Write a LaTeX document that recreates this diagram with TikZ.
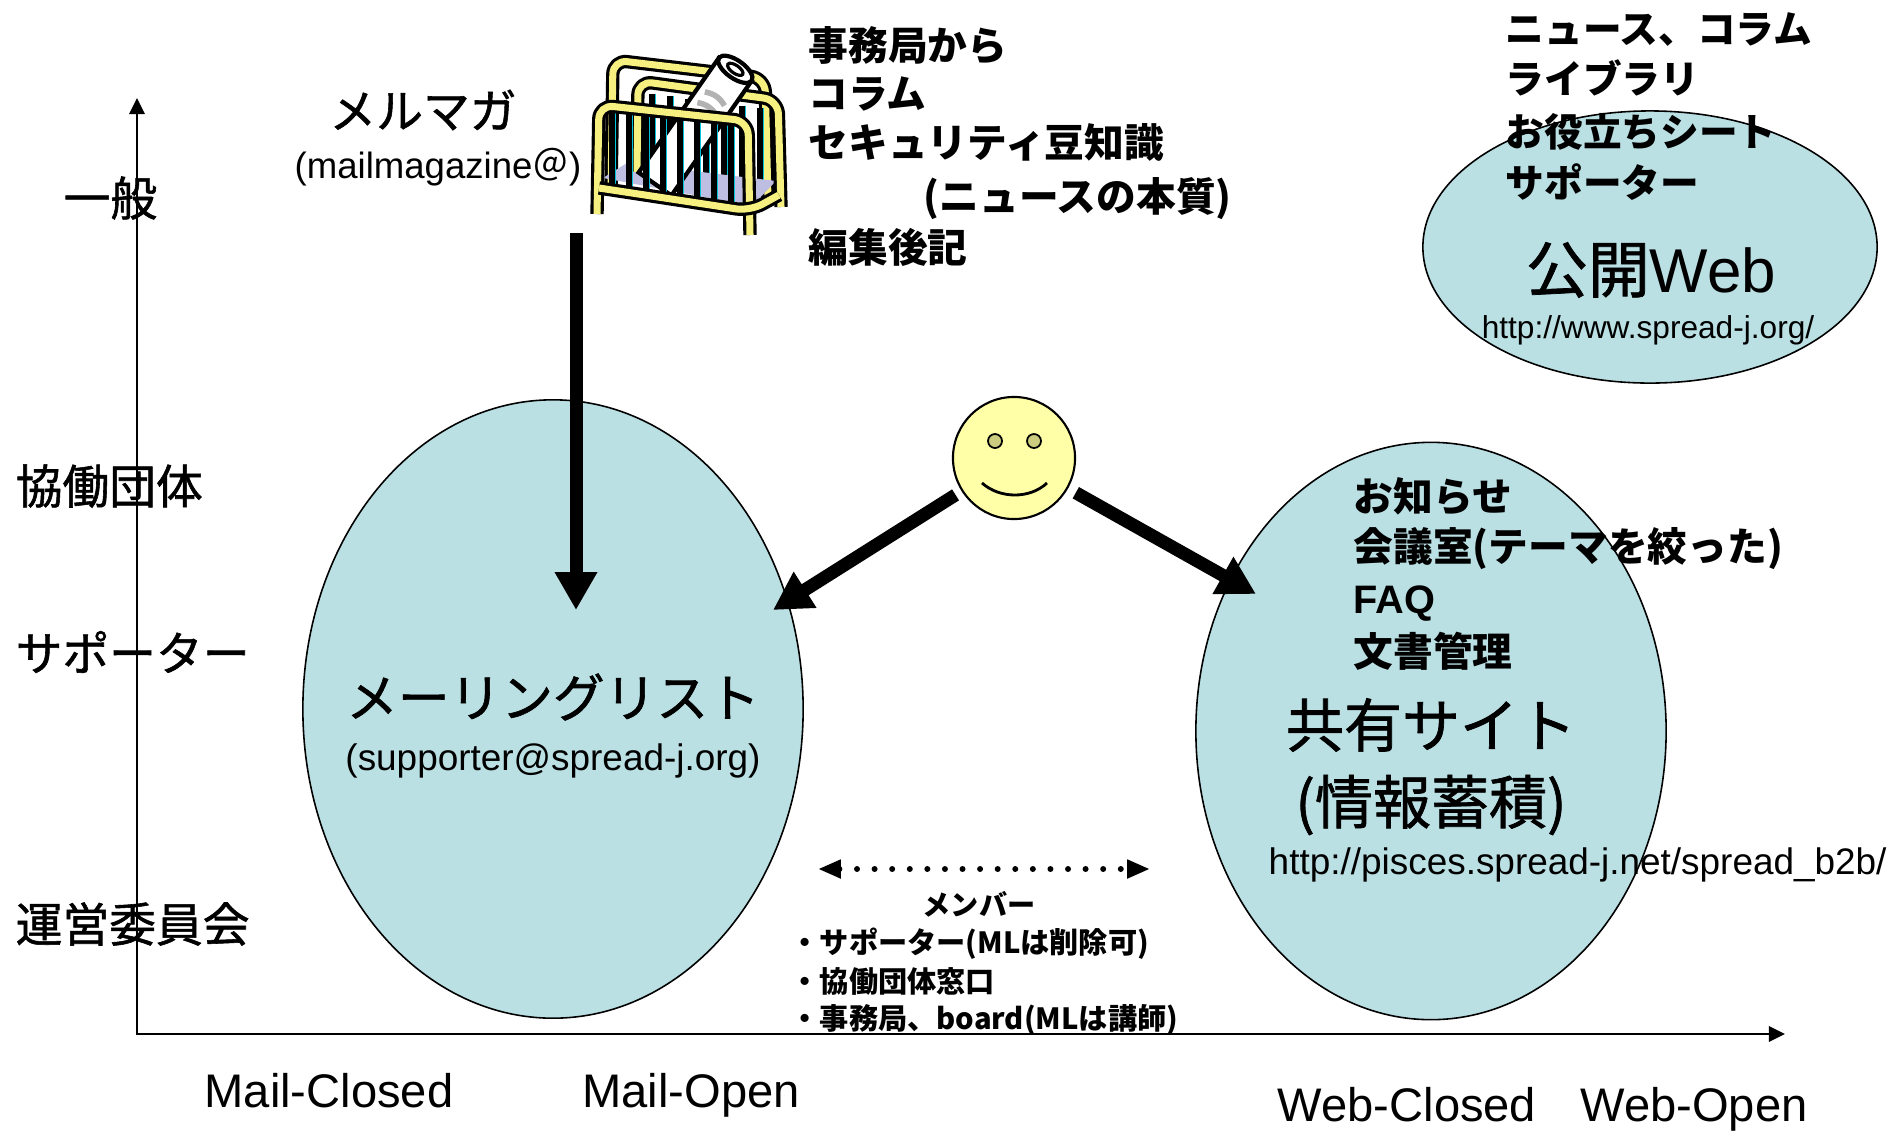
\documentclass[tikz,border=0pt]{standalone}
\usepackage{fontspec}
\setmainfont{Liberation Sans}
\newfontfamily\jp{Noto Sans CJK JP}
\newfontfamily\jpreg{Noto Sans CJK JP}[FakeBold=1.2]
\usetikzlibrary{arrows.meta,shapes.geometric}

\definecolor{poolblue}{RGB}{186,224,228}
\definecolor{smileyellow}{RGB}{255,255,168}
\definecolor{eyeolive}{RGB}{204,204,128}
\definecolor{rackyellow}{RGB}{246,240,128}
\definecolor{racklilac}{RGB}{190,190,226}
\definecolor{rackcyan}{RGB}{0,196,220}

\newcommand{\ptsize}[1]{\fontsize{#1}{#1}\selectfont}

\begin{document}
\begin{tikzpicture}[x=0.01cm, y=-0.01cm, every node/.style={inner sep=0pt},
        axis/.style={line width=0.6pt,
          {Triangle[width=4.4pt,length=4.6pt]}-{Triangle[width=4.4pt,length=4.6pt]}},
        bigarrow/.style={line width=3.7pt, -{Triangle[width=11.4pt,length=10.8pt]}},
        pool/.style={ellipse, draw, line width=0.45pt, fill=poolblue}]
      \tikzstyle{ylabel} = [anchor=west, font=\jpreg\ptsize{13.3}]
      \tikzstyle{xlabel} = [font=\ptsize{13.4}]
      \tikzstyle{item} = [anchor=west, font=\jp\bfseries\ptsize{11.3}]
      \tikzstyle{member} = [anchor=west, font=\jp\bfseries\ptsize{8.3}]
      \tikzstyle{url} = [font=\ptsize{10.5}]
      \tikzstyle{tube} = [line width=0.9pt, double=rackyellow, double distance=2pt,
        rounded corners=4pt, line join=round]
      \tikzstyle{bar} = [line width=1.5pt]
      \tikzstyle{stripe} = [line width=0.5pt, rackcyan]
      \useasboundingbox (0,0) rectangle (1894,1130);

      % axes
      \coordinate (origin) at (137,1034);
      \coordinate (ytop) at (137,98);
      \coordinate (xend) at (1785,1034);
      \draw[axis] (ytop) -- (origin) -- (xend);
      \node[ylabel] (general) at (63,198) {一般};
      \node[ylabel] (partner) at (15,486) {協働団体};
      \node[ylabel] (supporter) at (15,652) {サポーター};
      \node[ylabel] (board) at (15,924) {運営委員会};
      \node[xlabel] (mailclosed) at (329,1091) {Mail-Closed};
      \node[xlabel] (mailopen) at (691,1095) {Mail-Open};
      \node[xlabel] (webclosed) at (1407,1105) {Web-Closed};
      \node[xlabel] (webopen) at (1694,1109) {Web-Open};

      % the three places
      \node[pool, minimum width=5cm, minimum height=6.18cm] (mlist) at (553,709) {};
      \node[pool, minimum width=4.7cm, minimum height=5.77cm] (site) at (1431,731) {};
      \node[pool, minimum width=4.54cm, minimum height=2.72cm] (web) at (1650,247) {};

      % magazine rack
      \draw[tube] (611,192) -- (613,60) -- (765,78) -- (768,200);
      \foreach \bx in {652,670,688,706,724,742,760}
      {
        \draw[bar] (\bx,{92+(\bx-638)*0.13}) -- (\bx,186);
        \draw[stripe] ({\bx+3.5},{92+(\bx-638)*0.13}) -- ({\bx+3.5},186);
      }
      \fill[racklilac] (603,178) -- (627,163) -- (776,181) -- (752,206) -- cycle;
      \draw[tube] (637,172) -- (638,81) -- (778,100) -- (781,207);
      \begin{scope}[shift={(655,184)}, rotate=55]
        \filldraw[fill=white, line width=1.2pt] (0,-20) -- (140,-20) -- (140,20) -- (0,20) -- cycle;
        \filldraw[fill=white, line width=1.2pt] (140,0) circle [x radius=9, y radius=20];
        \draw[line width=0.9pt] (140,0) circle [x radius=4, y radius=9];
        \draw[gray!60, line width=1.6pt] (104,-12) to[bend left=25] (104,12);
        \draw[gray!60, line width=1.6pt] (91,-12) to[bend left=25] (91,12);
      \end{scope}
      \foreach \bx in {612,629,646,663,680,697,714,731}
      {
        \draw[bar] (\bx,{108+(\bx-600)*0.095}) -- (\bx,{188+(\bx-600)*0.147});
        \draw[stripe] ({\bx+3.5},{108+(\bx-600)*0.095}) -- ({\bx+3.5},{188+(\bx-600)*0.147});
      }
      \draw[tube] (597,214) -- (599,105) -- (748,121) -- (750,235);
      \draw[tube] (599,188) -- (750,211) -- (779,195);

      % smiley
      \node[circle, draw, line width=0.6pt, fill=smileyellow, minimum size=1.22cm] (smiley) at (1014,458) {};
      \node[circle, draw, line width=0.5pt, fill=eyeolive, minimum size=0.14cm] (eyeL) at (995,441) {};
      \node[circle, draw, line width=0.5pt, fill=eyeolive, minimum size=0.14cm] (eyeR) at (1034,441) {};
      \draw[line width=0.8pt] (982,483) .. controls (1000,499) and (1030,499) .. (1047,483);

      % arrows
      \coordinate (rackfoot) at (576,233);
      \coordinate (mlisttip) at (576,610);
      \coordinate (mlistside) at (773,610);
      \coordinate (sitetip) at (1256,594);
      \draw[bigarrow] (rackfoot) -- (mlisttip);
      \draw[bigarrow, shorten <=2pt] (smiley) -- (mlistside);
      \draw[bigarrow, shorten <=2.5pt] (smiley) -- (sitetip);

      % mail magazine
      \node[font=\jpreg\ptsize{13.3}] (mm) at (423,110) {メルマガ};
      \node[font=\ptsize{10.4}] (mmaddr) at (438,167) {(mailmagazine{\jp ＠})};
      \node[item] (mm1) at (808,45) {事務局から};
      \node[item] (mm2) at (808,94) {コラム};
      \node[item] (mm3) at (808,142) {セキュリティ豆知識};
      \node[item] (mm4) at (923,199) {(ニュースの本質)};
      \node[item] (mm5) at (808,247) {編集後記};

      % public web
      \node[item, font=\jp\bfseries\ptsize{11}] (pw1) at (1505,30) {ニュース、コラム};
      \node[item, font=\jp\bfseries\ptsize{11}] (pw2) at (1505,78) {ライブラリ};
      \node[item, font=\jp\bfseries\ptsize{11}] (pw3) at (1505,132) {お役立ちシート};
      \node[item, font=\jp\bfseries\ptsize{11}] (pw4) at (1505,182) {サポーター};
      \node[font=\ptsize{17.6}] (webname) at (1651,270) {{\jpreg 公開}Web};
      \node[font=\ptsize{9}] (weburl) at (1648,330) {http://www.spread-j.org/};

      % mailing list
      \node[font=\jpreg\ptsize{14.7}] (mlname) at (553,697) {メーリングリスト};
      \node[url] (mladdr) at (553,761) {(supporter@spread-j.org)};

      % shared site
      \node[item] (ss1) at (1353,496) {お知らせ};
      \node[item] (ss2) at (1353,549) {会議室(テーマを絞った)};
      \node[item, font=\bfseries\ptsize{11.3}] (ss3) at (1353,604) {FAQ};
      \node[item] (ss4) at (1353,651) {文書管理};
      \node[font=\jpreg\ptsize{16.5}] (sitename) at (1431,725) {共有サイト};
      \node[font=\jpreg\ptsize{16.5}] (sitenote) at (1431,805) {(情報蓄積)};
      \node[url, anchor=west] (siteurl) at (1268,865) {http://pisces.spread-j.net/spread\_b2b/};

      % members
      \coordinate (memL) at (818,869);
      \coordinate (memR) at (1150,869);
      \draw[line width=1.7pt, dash pattern=on 0pt off 5pt, line cap=round,
        {Triangle[width=5pt,length=6.5pt]}-{Triangle[width=5pt,length=6.5pt]}] (memL) -- (memR);
      \node[font=\jp\bfseries\ptsize{8}] (members) at (979,904) {メンバー};
      \node[member] (mem1) at (790,944) {・サポーター(MLは削除可)};
      \node[member] (mem2) at (790,981) {・協働団体窓口};
      \node[member] (mem3) at (790,1020) {・事務局、board(MLは講師)};
    \end{tikzpicture}
\end{document}
